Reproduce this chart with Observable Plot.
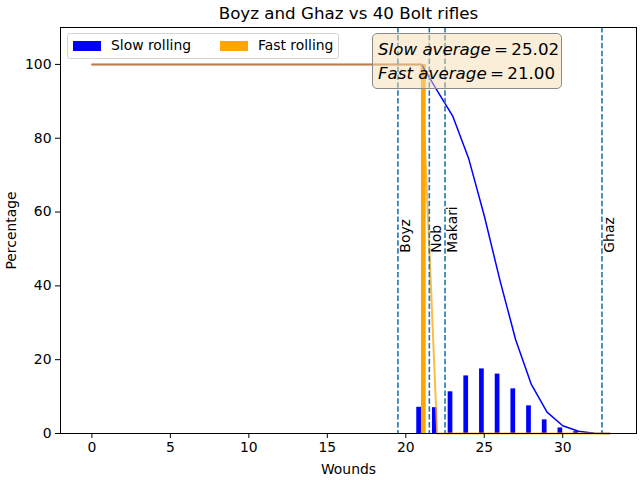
<!DOCTYPE html>
<html>
<head>
<meta charset="utf-8">
<script src="https://cdn.jsdelivr.net/npm/d3@7"></script>
<script src="https://cdn.jsdelivr.net/npm/@observablehq/plot@0.6"></script>
<style>
  html, body { margin: 0; padding: 0; background: #fff; }
  #wrap { position: relative; width: 640px; height: 480px; font-family: "DejaVu Sans", sans-serif; }
  #legend { position: absolute; left: 67px; top: 33px; width: 270px; height: 24px; border: 1px solid #d5d5d5; border-radius: 3px; background: rgba(255,255,255,0.8); font-size: 13.9px; }
  #legend .sw { position: absolute; top: 7px; width: 28px; height: 10px; }
  #legend .lb { position: absolute; top: 3px; color: #000; }
  #tbox { position: absolute; left: 372px; top: 33px; width: 190px; height: 56px; border: 1px solid #8a8a8a; border-radius: 5px; background: rgba(245,222,179,0.5); font-size: 16.7px; line-height: 24px; box-sizing: border-box; padding: 3px 0 0 5px; white-space: nowrap; }
  #tbox i { font-style: italic; }
</style>
</head>
<body>
<div id="wrap"></div>
<script>
// Data
const wounds = [0,1,2,3,4,5,6,7,8,9,10,11,12,13,14,15,16,17,18,19,20,21,22,23,24,25,26,27,28,29,30,31,32,33];
const slowLine = [100,100,100,100,100,100,100,100,100,100,100,100,100,100,100,100,100,100,100,100,100,100,92.9,85.9,74.6,59.0,41.5,25.4,13.3,5.8,2.1,0.6,0.1,0];
const fastLine = [100,100,100,100,100,100,100,100,100,100,100,100,100,100,100,100,100,100,100,100,100,100,0,0,0,0,0,0,0,0,0,0,0,0];
const barWounds = [21,22,23,24,25,26,27,28,29,30,31,32];
const slowBars = [7.1,7.0,11.3,15.6,17.5,16.1,12.1,7.5,3.7,1.5,0.5,0.1];
const fastBarWounds = [21];
const fastBars = [100];
const unitNames = ["Boyz","Nob","Makari","Ghaz"];
const unitWounds = [19.5,21.5,22.5,32.5];
const xTicks = [0,5,10,15,20,25,30];
const yTicks = [0,20,40,60,80,100];
const slowAvg = 25.02, fastAvg = 21.00;
const title = "Boyz and Ghaz vs 40 Bolt rifles";

const slowLineData = wounds.map((w,i) => ({w, v: slowLine[i]}));
const fastLineData = wounds.map((w,i) => ({w, v: fastLine[i]}));
const slowBarData = barWounds.map((w,i) => ({w, v: slowBars[i]}));
const fastBarData = fastBarWounds.map((w,i) => ({w, v: fastBars[i]}));
const unitData = unitNames.map((n,i) => ({n, w: unitWounds[i]}));

const chart = Plot.plot({
  width: 640, height: 480,
  marginLeft: 60, marginRight: 4, marginTop: 27, marginBottom: 47,
  style: { fontFamily: "DejaVu Sans, sans-serif", fontSize: "13.9px", color: "#000", background: "#fff" },
  x: { domain: [-2, 34.7] },
  y: { domain: [0, 110] },
  marks: [
    Plot.rectY(slowBarData, { x1: d => d.w - 0.3, x2: d => d.w, y1: 0, y2: "v", fill: "blue" }),
    Plot.rectY(fastBarData, { x1: d => d.w, x2: d => d.w + 0.3, y1: 0, y2: "v", fill: "orange" }),
    Plot.line(slowLineData, { x: "w", y: "v", stroke: "blue", strokeWidth: 1.5 }),
    Plot.line(fastLineData, { x: "w", y: "v", stroke: "orange", strokeOpacity: 0.75, strokeWidth: 2 }),
    Plot.ruleX(unitData, { x: "w", stroke: "#1f77b4", strokeWidth: 1.6, strokeDasharray: "5.5,2.4" }),
    Plot.text(unitData, { x: d => d.w + 0.14, y: 49, text: "n", rotate: -90, textAnchor: "start", lineAnchor: "top", fontSize: 13.9, fill: "#000" }),
    Plot.frame({ stroke: "#000", strokeWidth: 1 }),
    Plot.axisX({ ticks: xTicks, tickSize: 5, tickPadding: 4, label: "Wounds", labelAnchor: "center", labelArrow: "none", labelOffset: 40 }),
    Plot.axisY({ ticks: yTicks, tickSize: 5, tickPadding: 4, label: "Percentage", labelAnchor: "center", labelArrow: "none", labelOffset: 54 }),
    Plot.text([title], { frameAnchor: "top", dy: -20, fontSize: 16.7, fill: "#000" })
  ]
});
const wrap = document.getElementById("wrap");
wrap.appendChild(chart);

const legend = document.createElement("div");
legend.id = "legend";
legend.innerHTML = `<div class="sw" style="left:5px;background:blue"></div><div class="lb" style="left:43px">Slow rolling</div>
<div class="sw" style="left:152px;background:orange"></div><div class="lb" style="left:190px">Fast rolling</div>`;
wrap.appendChild(legend);

const tbox = document.createElement("div");
tbox.id = "tbox";
tbox.innerHTML = `<div><i>Slow average</i>\u2009=\u2009${slowAvg.toFixed(2)}</div><div><i>Fast average</i>\u2009=\u2009${fastAvg.toFixed(2)}</div>`;
wrap.appendChild(tbox);
</script>
</body>
</html>
